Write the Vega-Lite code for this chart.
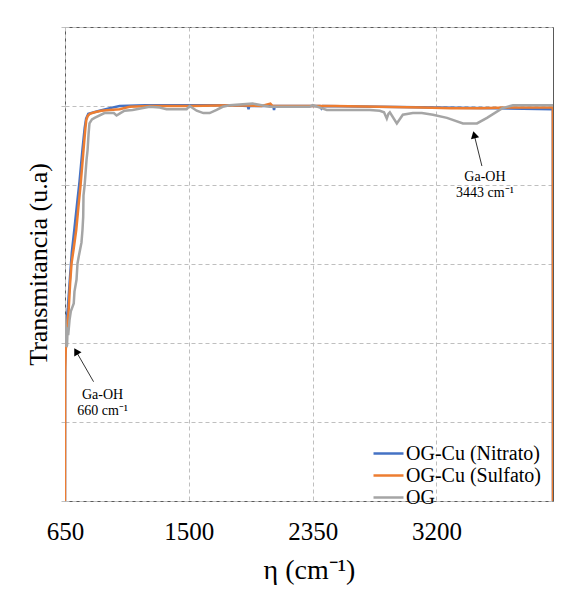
{
  "$schema": "https://vega.github.io/schema/vega-lite/v6.json",
  "width": 488,
  "height": 474,
  "autosize": {"type": "none"},
  "padding": {"left": 65, "top": 27, "right": 32, "bottom": 95},
  "background": "white",
  "config": {
    "font": "Liberation Serif, Times New Roman, serif",
    "view": {"stroke": "#595959", "strokeWidth": 1}
  },
  "datasets": {
    "spectra": [
      {"x": 650, "y": 0, "s": "OG-Cu (Nitrato)"},
      {"x": 651, "y": 1.7, "s": "OG-Cu (Nitrato)"},
      {"x": 654, "y": 2.05, "s": "OG-Cu (Nitrato)"},
      {"x": 662, "y": 2.3, "s": "OG-Cu (Nitrato)"},
      {"x": 670, "y": 2.45, "s": "OG-Cu (Nitrato)"},
      {"x": 685, "y": 2.85, "s": "OG-Cu (Nitrato)"},
      {"x": 697, "y": 3.15, "s": "OG-Cu (Nitrato)"},
      {"x": 715, "y": 3.45, "s": "OG-Cu (Nitrato)"},
      {"x": 735, "y": 3.8, "s": "OG-Cu (Nitrato)"},
      {"x": 750, "y": 4.05, "s": "OG-Cu (Nitrato)"},
      {"x": 770, "y": 4.45, "s": "OG-Cu (Nitrato)"},
      {"x": 785, "y": 4.72, "s": "OG-Cu (Nitrato)"},
      {"x": 795, "y": 4.84, "s": "OG-Cu (Nitrato)"},
      {"x": 810, "y": 4.9, "s": "OG-Cu (Nitrato)"},
      {"x": 887, "y": 4.94, "s": "OG-Cu (Nitrato)"},
      {"x": 950, "y": 4.97, "s": "OG-Cu (Nitrato)"},
      {"x": 1025, "y": 5.0, "s": "OG-Cu (Nitrato)"},
      {"x": 1200, "y": 5.01, "s": "OG-Cu (Nitrato)"},
      {"x": 1500, "y": 5.01, "s": "OG-Cu (Nitrato)"},
      {"x": 1800, "y": 5.01, "s": "OG-Cu (Nitrato)"},
      {"x": 1905, "y": 5.0, "s": "OG-Cu (Nitrato)"},
      {"x": 1910, "y": 4.96, "s": "OG-Cu (Nitrato)"},
      {"x": 1915, "y": 5.0, "s": "OG-Cu (Nitrato)"},
      {"x": 2080, "y": 5.0, "s": "OG-Cu (Nitrato)"},
      {"x": 2085, "y": 4.95, "s": "OG-Cu (Nitrato)"},
      {"x": 2090, "y": 5.0, "s": "OG-Cu (Nitrato)"},
      {"x": 2400, "y": 5.0, "s": "OG-Cu (Nitrato)"},
      {"x": 2410, "y": 4.97, "s": "OG-Cu (Nitrato)"},
      {"x": 2420, "y": 5.0, "s": "OG-Cu (Nitrato)"},
      {"x": 2800, "y": 4.99, "s": "OG-Cu (Nitrato)"},
      {"x": 3200, "y": 4.98, "s": "OG-Cu (Nitrato)"},
      {"x": 3600, "y": 4.97, "s": "OG-Cu (Nitrato)"},
      {"x": 3999, "y": 4.96, "s": "OG-Cu (Nitrato)"},
      {"x": 4000, "y": 0, "s": "OG-Cu (Nitrato)"},

      {"x": 650, "y": 0, "s": "OG-Cu (Sulfato)"},
      {"x": 651, "y": 1.62, "s": "OG-Cu (Sulfato)"},
      {"x": 654, "y": 1.85, "s": "OG-Cu (Sulfato)"},
      {"x": 658, "y": 2.05, "s": "OG-Cu (Sulfato)"},
      {"x": 666, "y": 2.25, "s": "OG-Cu (Sulfato)"},
      {"x": 674, "y": 2.38, "s": "OG-Cu (Sulfato)"},
      {"x": 685, "y": 2.75, "s": "OG-Cu (Sulfato)"},
      {"x": 695, "y": 3.01, "s": "OG-Cu (Sulfato)"},
      {"x": 710, "y": 3.2, "s": "OG-Cu (Sulfato)"},
      {"x": 727, "y": 3.43, "s": "OG-Cu (Sulfato)"},
      {"x": 742, "y": 3.72, "s": "OG-Cu (Sulfato)"},
      {"x": 757, "y": 4.0, "s": "OG-Cu (Sulfato)"},
      {"x": 777, "y": 4.44, "s": "OG-Cu (Sulfato)"},
      {"x": 790, "y": 4.72, "s": "OG-Cu (Sulfato)"},
      {"x": 796, "y": 4.82, "s": "OG-Cu (Sulfato)"},
      {"x": 805, "y": 4.87, "s": "OG-Cu (Sulfato)"},
      {"x": 820, "y": 4.9, "s": "OG-Cu (Sulfato)"},
      {"x": 853, "y": 4.92, "s": "OG-Cu (Sulfato)"},
      {"x": 900, "y": 4.94, "s": "OG-Cu (Sulfato)"},
      {"x": 956, "y": 4.95, "s": "OG-Cu (Sulfato)"},
      {"x": 1025, "y": 4.96, "s": "OG-Cu (Sulfato)"},
      {"x": 1093, "y": 4.99, "s": "OG-Cu (Sulfato)"},
      {"x": 1230, "y": 5.0, "s": "OG-Cu (Sulfato)"},
      {"x": 1500, "y": 5.0, "s": "OG-Cu (Sulfato)"},
      {"x": 1800, "y": 5.01, "s": "OG-Cu (Sulfato)"},
      {"x": 2000, "y": 5.0, "s": "OG-Cu (Sulfato)"},
      {"x": 2060, "y": 5.03, "s": "OG-Cu (Sulfato)"},
      {"x": 2075, "y": 5.0, "s": "OG-Cu (Sulfato)"},
      {"x": 2350, "y": 5.0, "s": "OG-Cu (Sulfato)"},
      {"x": 2500, "y": 5.0, "s": "OG-Cu (Sulfato)"},
      {"x": 2800, "y": 4.99, "s": "OG-Cu (Sulfato)"},
      {"x": 3100, "y": 4.98, "s": "OG-Cu (Sulfato)"},
      {"x": 3300, "y": 4.97, "s": "OG-Cu (Sulfato)"},
      {"x": 3500, "y": 4.97, "s": "OG-Cu (Sulfato)"},
      {"x": 3700, "y": 4.98, "s": "OG-Cu (Sulfato)"},
      {"x": 3850, "y": 4.98, "s": "OG-Cu (Sulfato)"},
      {"x": 3999, "y": 4.98, "s": "OG-Cu (Sulfato)"},
      {"x": 4000, "y": 0, "s": "OG-Cu (Sulfato)"},

      {"x": 650, "y": 2.35, "s": "OG"},
      {"x": 655, "y": 2.2, "s": "OG"},
      {"x": 660, "y": 1.95, "s": "OG"},
      {"x": 664, "y": 1.97, "s": "OG"},
      {"x": 668, "y": 2.2, "s": "OG"},
      {"x": 672, "y": 2.1, "s": "OG"},
      {"x": 681, "y": 2.29, "s": "OG"},
      {"x": 690, "y": 2.4, "s": "OG"},
      {"x": 702, "y": 2.46, "s": "OG"},
      {"x": 710, "y": 2.5, "s": "OG"},
      {"x": 715, "y": 2.65, "s": "OG"},
      {"x": 729, "y": 2.8, "s": "OG"},
      {"x": 736, "y": 3.01, "s": "OG"},
      {"x": 745, "y": 3.1, "s": "OG"},
      {"x": 750, "y": 3.15, "s": "OG"},
      {"x": 763, "y": 3.27, "s": "OG"},
      {"x": 770, "y": 3.43, "s": "OG"},
      {"x": 775, "y": 3.6, "s": "OG"},
      {"x": 777, "y": 3.87, "s": "OG"},
      {"x": 785, "y": 4.0, "s": "OG"},
      {"x": 798, "y": 4.32, "s": "OG"},
      {"x": 805, "y": 4.44, "s": "OG"},
      {"x": 812, "y": 4.65, "s": "OG"},
      {"x": 818, "y": 4.78, "s": "OG"},
      {"x": 835, "y": 4.83, "s": "OG"},
      {"x": 853, "y": 4.85, "s": "OG"},
      {"x": 921, "y": 4.91, "s": "OG"},
      {"x": 985, "y": 4.91, "s": "OG"},
      {"x": 1004, "y": 4.88, "s": "OG"},
      {"x": 1030, "y": 4.91, "s": "OG"},
      {"x": 1059, "y": 4.94, "s": "OG"},
      {"x": 1114, "y": 4.95, "s": "OG"},
      {"x": 1231, "y": 4.99, "s": "OG"},
      {"x": 1300, "y": 4.98, "s": "OG"},
      {"x": 1347, "y": 4.96, "s": "OG"},
      {"x": 1485, "y": 4.96, "s": "OG"},
      {"x": 1506, "y": 5.0, "s": "OG"},
      {"x": 1554, "y": 4.94, "s": "OG"},
      {"x": 1600, "y": 4.91, "s": "OG"},
      {"x": 1643, "y": 4.91, "s": "OG"},
      {"x": 1691, "y": 4.95, "s": "OG"},
      {"x": 1732, "y": 4.99, "s": "OG"},
      {"x": 1780, "y": 5.01, "s": "OG"},
      {"x": 1938, "y": 5.03, "s": "OG"},
      {"x": 2000, "y": 5.01, "s": "OG"},
      {"x": 2055, "y": 4.99, "s": "OG"},
      {"x": 2330, "y": 4.99, "s": "OG"},
      {"x": 2351, "y": 5.01, "s": "OG"},
      {"x": 2400, "y": 4.98, "s": "OG"},
      {"x": 2447, "y": 4.95, "s": "OG"},
      {"x": 2743, "y": 4.95, "s": "OG"},
      {"x": 2811, "y": 4.94, "s": "OG"},
      {"x": 2840, "y": 4.92, "s": "OG"},
      {"x": 2859, "y": 4.84, "s": "OG"},
      {"x": 2870, "y": 4.9, "s": "OG"},
      {"x": 2880, "y": 4.92, "s": "OG"},
      {"x": 2928, "y": 4.78, "s": "OG"},
      {"x": 2969, "y": 4.89, "s": "OG"},
      {"x": 3038, "y": 4.91, "s": "OG"},
      {"x": 3100, "y": 4.91, "s": "OG"},
      {"x": 3176, "y": 4.89, "s": "OG"},
      {"x": 3272, "y": 4.85, "s": "OG"},
      {"x": 3382, "y": 4.78, "s": "OG"},
      {"x": 3478, "y": 4.78, "s": "OG"},
      {"x": 3547, "y": 4.85, "s": "OG"},
      {"x": 3650, "y": 4.97, "s": "OG"},
      {"x": 3725, "y": 5.01, "s": "OG"},
      {"x": 4000, "y": 5.01, "s": "OG"}
    ],
    "notes": [
      {"x": 3533, "y": 4.1, "t": "Ga-OH"},
      {"x": 3533, "y": 3.9, "t": "3443 cm⁻¹"},
      {"x": 908, "y": 1.34, "t": "Ga-OH"},
      {"x": 908, "y": 1.14, "t": "660 cm⁻¹"}
    ],
    "arrow1": [{"x": 3512, "y": 4.24, "x2": 3459, "y2": 4.635}],
    "arrow2": [{"x": 846, "y": 1.51, "x2": 726, "y2": 1.895}]
  },
  "layer": [
    {
      "data": {"name": "spectra"},
      "mark": {"type": "line", "strokeWidth": 2.5, "clip": true, "interpolate": "linear"},
      "encoding": {
        "x": {
          "field": "x", "type": "quantitative",
          "scale": {"domain": [650, 4000], "nice": false, "zero": false},
          "axis": {
            "values": [650, 1500, 2350, 3200], "format": "d",
            "grid": true, "gridDash": [4, 3], "gridColor": "#BFBFBF", "gridWidth": 1,
            "domain": false, "ticks": false, "tickSize": 0,
            "labelFont": "Liberation Serif, Times New Roman, serif", "labelFontSize": 25, "labelColor": "#000000",
            "labelPadding": 18, "labelFlush": false, "labelOverlap": false,
            "title": "η (cm⁻¹)", "titleFont": "Liberation Serif, Times New Roman, serif", "titleFontSize": 28,
            "titleFontWeight": "normal", "titleColor": "#000000", "titlePadding": 12
          }
        },
        "y": {
          "field": "y", "type": "quantitative",
          "scale": {"domain": [0, 6], "nice": false, "zero": true},
          "axis": {
            "values": [0, 1, 2, 3, 4, 5, 6],
            "grid": true, "gridDash": [4, 3], "gridColor": "#BFBFBF", "gridWidth": 1,
            "domain": false, "labels": false,
            "ticks": true, "tickSize": 4, "tickColor": "#BFBFBF", "tickDash": [4, 3],
            "title": "Transmitancia (u.a)", "titleFont": "Liberation Serif, Times New Roman, serif", "titleFontSize": 26,
            "titleFontWeight": "normal", "titleColor": "#000000", "titlePadding": 9
          }
        },
        "color": {
          "field": "s", "type": "nominal",
          "scale": {
            "domain": ["OG-Cu (Nitrato)", "OG-Cu (Sulfato)", "OG"],
            "range": ["#4472C4", "#ED7D31", "#A5A5A5"]
          },
          "legend": {
            "title": null, "orient": "none", "legendX": 312, "legendY": 415,
            "padding": 0, "symbolType": "M-1.5,0H1.5", "symbolSize": 400, "symbolStrokeWidth": 2.5,
            "labelFont": "Liberation Serif, Times New Roman, serif", "labelFontSize": 20, "labelColor": "#000000",
            "labelOffset": 6, "rowPadding": -3, "labelLimit": 300
          }
        }
      }
    },
    {
      "data": {"name": "notes"},
      "mark": {"type": "text", "font": "Liberation Serif, Times New Roman, serif", "fontSize": 14, "color": "#000000", "align": "center", "baseline": "middle"},
      "encoding": {
        "x": {"field": "x", "type": "quantitative"},
        "y": {"field": "y", "type": "quantitative"},
        "text": {"field": "t"}
      }
    },
    {
      "data": {"name": "arrow1"},
      "mark": {"type": "rule", "color": "#000000", "strokeWidth": 0.8},
      "encoding": {
        "x": {"field": "x", "type": "quantitative"},
        "y": {"field": "y", "type": "quantitative"},
        "x2": {"field": "x2"},
        "y2": {"field": "y2"}
      }
    },
    {
      "data": {"name": "arrow1"},
      "mark": {"type": "point", "shape": "triangle-up", "filled": true, "color": "#000000", "size": 70, "angle": -14, "opacity": 1},
      "encoding": {
        "x": {"field": "x2", "type": "quantitative"},
        "y": {"field": "y2", "type": "quantitative"}
      }
    },
    {
      "data": {"name": "arrow2"},
      "mark": {"type": "rule", "color": "#000000", "strokeWidth": 0.8},
      "encoding": {
        "x": {"field": "x", "type": "quantitative"},
        "y": {"field": "y", "type": "quantitative"},
        "x2": {"field": "x2"},
        "y2": {"field": "y2"}
      }
    },
    {
      "data": {"name": "arrow2"},
      "mark": {"type": "point", "shape": "triangle-up", "filled": true, "color": "#000000", "size": 70, "angle": -30, "opacity": 1},
      "encoding": {
        "x": {"field": "x2", "type": "quantitative"},
        "y": {"field": "y2", "type": "quantitative"}
      }
    }
  ]
}
